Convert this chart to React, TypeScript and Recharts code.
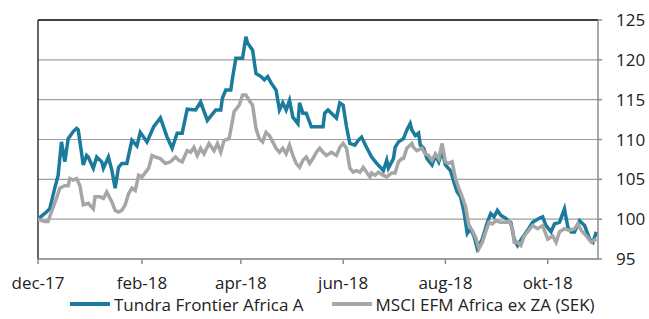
import React from 'react';
import { LineChart, Line, XAxis, YAxis, CartesianGrid, Legend, ReferenceLine } from 'recharts';

// days counted from 2017-12-01
const tundraDays = [0, 5, 7, 10, 12, 14, 16, 18, 21, 23, 24, 27, 29, 30, 33, 35, 38, 39, 42, 44, 46, 48, 50, 53, 56, 59, 61, 65, 69, 73, 77, 80, 83, 86, 89, 94, 97, 101, 106, 109, 110, 112, 115, 116, 118, 122, 124, 125, 128, 130, 133, 135, 137, 139, 142, 144, 146, 148, 150, 152, 155, 156, 158, 160, 163, 165, 170, 171, 173, 175, 178, 180, 182, 184, 186, 189, 191, 193, 196, 199, 202, 206, 208, 209, 212, 213, 215, 218, 220, 222, 223, 225, 227, 228, 230, 232, 235, 237, 239, 241, 243, 246, 248, 250, 252, 254, 255, 256, 258, 260, 262, 265, 268, 270, 272, 274, 276, 279, 282, 284, 286, 289, 292, 295, 299, 301, 303, 306, 308, 311, 314, 316, 318, 320, 323, 326, 329, 331, 333];
const tundraValues = [100, 100.9, 101.3, 103.9, 105.5, 109.7, 107.2, 110.1, 111, 111.4, 111.2, 106.8, 108, 107.8, 106.4, 107.8, 107.2, 106.4, 107.8, 106.2, 103.9, 106.5, 107, 107, 109.9, 109.2, 110.9, 109.7, 111.6, 112.7, 110.3, 108.9, 110.8, 110.8, 113.8, 113.7, 114.7, 112.4, 113.7, 113.7, 115.2, 116.2, 116.2, 117.7, 120.2, 120.2, 122.9, 122.1, 121.2, 118.3, 117.9, 117.5, 117.9, 117.1, 116.2, 113.7, 114.6, 113.7, 114.9, 112.8, 112, 114.6, 113.3, 113.3, 111.6, 111.6, 111.6, 113.3, 113.7, 113.3, 112.7, 114.6, 114.3, 111.6, 109.5, 109.3, 109.9, 110.3, 109, 107.8, 107, 106.1, 107.4, 106.4, 107.6, 109, 109.7, 110.1, 111.2, 112, 111.2, 110.5, 110.8, 109.3, 108.9, 107.6, 106.8, 108, 107.2, 108.6, 106.8, 106.1, 104.7, 103.4, 102.8, 101, 99.6, 98.2, 98.8, 97.9, 96.3, 97.5, 99.6, 100.7, 100.3, 101.1, 100.5, 100.1, 99.6, 97.5, 96.7, 97.7, 98.6, 99.6, 100.1, 100.3, 99.2, 98.4, 99.4, 99.6, 101.3, 99, 98.4, 98.4, 99.8, 99.2, 97.5, 97.1, 98.4];

const msciDays = [0, 4, 6, 8, 11, 13, 16, 18, 19, 21, 23, 25, 27, 30, 33, 34, 37, 39, 41, 44, 46, 48, 50, 52, 54, 56, 58, 60, 62, 66, 68, 70, 73, 76, 79, 82, 84, 86, 89, 91, 93, 95, 97, 99, 102, 105, 107, 109, 111, 114, 117, 120, 122, 124, 126, 128, 130, 132, 134, 136, 138, 140, 142, 144, 146, 148, 150, 152, 154, 156, 158, 160, 162, 164, 166, 168, 170, 172, 175, 178, 180, 182, 184, 186, 188, 190, 192, 194, 196, 198, 199, 201, 203, 206, 208, 211, 213, 215, 217, 218, 220, 223, 224, 226, 229, 231, 233, 235, 237, 239, 241, 243, 245, 247, 249, 251, 253, 255, 257, 259, 261, 263, 265, 267, 269, 271, 273, 276, 279, 281, 283, 284, 286, 288, 290, 292, 295, 298, 301, 304, 307, 309, 311, 314, 317, 320, 322, 324, 327, 330, 333];
const msciValues = [100, 99.7, 99.7, 100.9, 102.6, 103.9, 104.2, 104.2, 105.1, 104.9, 105.1, 104.2, 101.8, 102, 101.3, 102.8, 102.8, 102.6, 103.4, 102.2, 101.1, 100.9, 101.1, 101.8, 103.2, 103.9, 103.6, 105.5, 105.3, 106.4, 108, 107.8, 107.6, 107, 107.2, 107.8, 107.4, 107.2, 108.6, 108.4, 109, 108, 108.9, 108.2, 109.5, 108.6, 109.5, 108.4, 109.9, 110.1, 113.5, 114.3, 115.6, 115.6, 114.9, 114.3, 111.4, 110.1, 109.7, 110.9, 110.5, 109.7, 108.9, 108.4, 108.9, 108.2, 109.3, 108, 107, 106.5, 107.4, 107.8, 107, 107.6, 108.4, 108.9, 108.4, 108, 108.4, 108, 109, 109.5, 108.9, 106.4, 105.9, 106.1, 105.9, 106.5, 105.9, 105.3, 105.8, 105.5, 105.9, 105.5, 105.3, 105.8, 105.8, 107.2, 107.6, 107.6, 108.9, 109.5, 109, 108.6, 108.9, 108.2, 108, 107.4, 108.2, 107.6, 109.5, 107.2, 107, 107.2, 105.1, 103.9, 102.8, 101.6, 99.2, 98.6, 97.7, 96.3, 97.1, 98.4, 99.6, 99.4, 99.8, 99.6, 99.6, 99.8, 98.8, 97.1, 97.1, 96.7, 97.9, 98.4, 99.2, 98.8, 99.2, 97.5, 97.9, 97.1, 98.4, 98.8, 98.6, 98.8, 99.4, 98.6, 97.9, 97.1, 97.5];

const monthTicks = [0, 62, 121, 182, 243, 304];
const monthLabels = ['dec-17', 'feb-18', 'apr-18', 'jun-18', 'aug-18', 'okt-18'];
const yTicks = [95, 100, 105, 110, 115, 120, 125];

const seriesNames = ['Tundra Frontier Africa A', 'MSCI EFM Africa ex ZA (SEK)'];
const seriesColors = ['#1b7b9c', '#a6a6a6'];

const tundra = tundraDays.map((d, i) => ({ d, v: tundraValues[i] }));
const msci = msciDays.map((d, i) => ({ d, v: msciValues[i] }));

const FONT = '"Open Sans", sans-serif';

const LegendBox = () => (
    <div style={{ display: 'flex', alignItems: 'center', height: 30, paddingLeft: 70, fontFamily: FONT, fontSize: 17, color: '#222' }}>
        {seriesNames.map((name, i) => (
            <div key={name} style={{ display: 'flex', alignItems: 'center', marginRight: 28 }}>
                <span style={{ display: 'inline-block', width: 40, height: 4, background: seriesColors[i], marginRight: 4 }} />
                <span style={{ whiteSpace: 'nowrap' }}>{name}</span>
            </div>
        ))}
    </div>
);

export default function App() {
    return (
        <div>
            <style>{'body{margin:0}'}</style>
            <LineChart width={649} height={319} margin={{ top: 20, right: 0, bottom: 0, left: 38 }}>
                <CartesianGrid vertical={false} stroke="#9e9e9e" strokeWidth={1.2} />
                <XAxis
                    type="number"
                    dataKey="d"
                    domain={[0, 334]}
                    ticks={monthTicks}
                    tickFormatter={(v: number) => monthLabels[monthTicks.indexOf(v)]}
                    height={30}
                    stroke="#8c8c8c"
                    strokeWidth={1.5}
                    tickSize={5}
                    tickMargin={13}
                    tick={{ fill: '#222', fontSize: 17, fontFamily: FONT }}
                    allowDataOverflow
                />
                <YAxis
                    orientation="right"
                    domain={[95, 125]}
                    ticks={yTicks}
                    width={51}
                    stroke="#8c8c8c"
                    strokeWidth={1.5}
                    tickSize={4}
                    tickMargin={14}
                    tick={{ fill: '#222', fontSize: 17, fontFamily: FONT }}
                    allowDataOverflow
                />
                <ReferenceLine y={125} stroke="#111" strokeWidth={1.5} />
                <ReferenceLine x={0} stroke="#333" strokeWidth={1.5} />
                <Legend verticalAlign="bottom" height={30} wrapperStyle={{ left: 0, width: 649 }} content={() => <LegendBox />} />
                <Line data={tundra} dataKey="v" name={seriesNames[0]} stroke={seriesColors[0]} strokeWidth={3.5} dot={false} type="linear" isAnimationActive={false} />
                <Line data={msci} dataKey="v" name={seriesNames[1]} stroke={seriesColors[1]} strokeWidth={3.5} dot={false} type="linear" isAnimationActive={false} />
            </LineChart>
        </div>
    );
}
